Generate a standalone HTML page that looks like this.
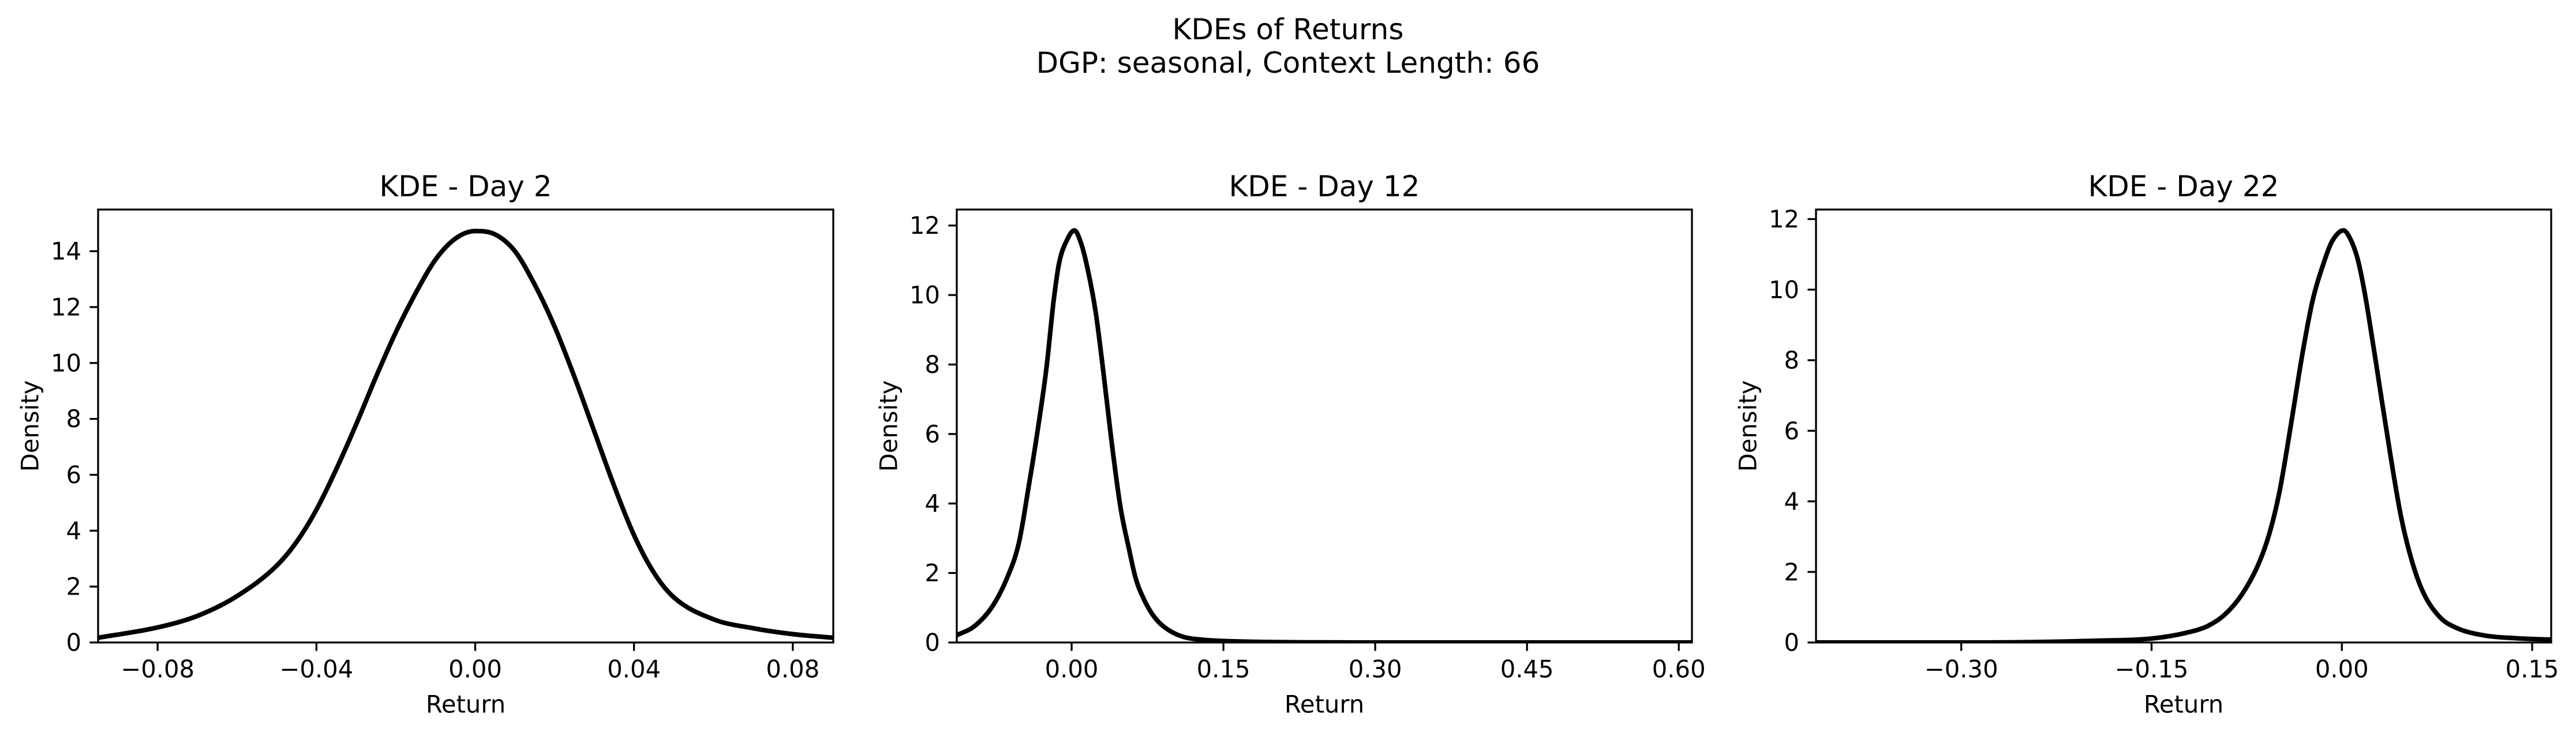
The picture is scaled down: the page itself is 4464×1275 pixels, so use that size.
<!DOCTYPE html>
<html><head><meta charset="utf-8">
<style>
html,body{margin:0;padding:0;background:#fff;}
svg{display:block;font-family:"DejaVu Sans","Liberation Sans",sans-serif;}
</style></head>
<body>
<svg id="fig" width="4464" height="1275" viewBox="0 0 4464 1275" xmlns="http://www.w3.org/2000/svg">
<rect width="4464" height="1275" fill="#fff"/>
<text x="2232" y="51" font-size="50" text-anchor="middle" dominant-baseline="central">KDEs of Returns</text>
<text x="2232" y="109" font-size="50" text-anchor="middle" dominant-baseline="central">DGP: seasonal, Context Length: 66</text>
</svg>
<script>
// Panel 1 (Day 2)
const p1X = [-0.095,-0.08,-0.07,-0.06,-0.05,-0.045,-0.04,-0.035,-0.03,-0.025,-0.02,-0.015,-0.01,-0.005,0.0,0.005,0.01,0.015,0.02,0.025,0.03,0.035,0.04,0.045,0.05,0.06,0.07,0.08,0.0902];
const p1Y = [0.17,0.54,0.95,1.66,2.75,3.6,4.75,6.2,7.8,9.5,11.1,12.5,13.7,14.45,14.72,14.6,14.0,12.8,11.3,9.5,7.55,5.6,3.84,2.5,1.62,0.83,0.51,0.3,0.17];
const p1Ticks = [-0.08,-0.04,0.0,0.04,0.08];
const p1TickLabels = ["\u22120.08","\u22120.04","0.00","0.04","0.08"];
const p1YTicks = [0,2,4,6,8,10,12,14];
// Panel 2 (Day 12)
const p2X = [-0.1135,-0.0964,-0.0785,-0.0639,-0.052,-0.0422,-0.0341,-0.0249,-0.0179,-0.0125,-0.0043,0.0027,0.0092,0.0162,0.0238,0.0309,0.039,0.0482,0.0568,0.0633,0.0715,0.0796,0.0877,0.0985,0.112,0.134,0.166,0.231,0.35,0.613];
const p2Y = [0.21,0.46,1.03,1.85,2.88,4.53,6.0,7.9,9.8,10.9,11.6,11.86,11.5,10.7,9.5,7.9,5.9,3.9,2.68,1.85,1.24,0.82,0.54,0.31,0.15,0.07,0.03,0.005,0.0,0.0];
const p2Ticks = [0.0,0.15,0.30,0.45,0.60];
const p2TickLabels = ["0.00","0.15","0.30","0.45","0.60"];
const p2YTicks = [0,2,4,6,8,10,12];
// Panel 3 (Day 22)
const p3X = [-0.4145,-0.30,-0.192,-0.148,-0.122,-0.105,-0.092,-0.079,-0.066,-0.057,-0.049,-0.040,-0.031,-0.023,-0.0139,-0.0087,-0.0030,0.0013,0.0065,0.0122,0.0165,0.0209,0.0296,0.0383,0.047,0.0557,0.0644,0.0775,0.0905,0.1123,0.1384,0.165];
const p3Y = [0.0,0.0,0.05,0.12,0.28,0.48,0.8,1.35,2.2,3.1,4.3,6.2,8.2,9.7,10.8,11.3,11.6,11.68,11.45,10.9,10.2,9.3,7.3,5.3,3.5,2.25,1.4,0.71,0.41,0.2,0.12,0.08];
const p3Ticks = [-0.30,-0.15,0.0,0.15];
const p3TickLabels = ["\u22120.30","\u22120.15","0.00","0.15"];
const p3YTicks = [0,2,4,6,8,10,12];

const NS = "http://www.w3.org/2000/svg";
const svg = document.getElementById('fig');
function mk(tag, attrs, parent){
  const e = document.createElementNS(NS, tag);
  for (const k in attrs) e.setAttribute(k, attrs[k]);
  (parent||svg).appendChild(e);
  return e;
}
function smoothPath(px, py){
  // monotone cubic (Fritsch-Carlson) in pixel space
  const n = px.length, m = new Array(n), dk = [];
  for (let i = 0; i < n - 1; i++) dk.push((py[i+1] - py[i]) / (px[i+1] - px[i]));
  m[0] = dk[0]; m[n-1] = dk[n-2];
  for (let i = 1; i < n - 1; i++) m[i] = (dk[i-1] * dk[i] <= 0) ? 0 : (dk[i-1] + dk[i]) / 2;
  for (let i = 0; i < n - 1; i++) {
    if (dk[i] === 0) { m[i] = 0; m[i+1] = 0; continue; }
    const a = m[i] / dk[i], b = m[i+1] / dk[i], s = a*a + b*b;
    if (s > 9) { const t = 3 / Math.sqrt(s); m[i] = t*a*dk[i]; m[i+1] = t*b*dk[i]; }
  }
  let d = 'M' + px[0].toFixed(1) + ' ' + py[0].toFixed(1);
  for (let i = 0; i < n - 1; i++) {
    const h = (px[i+1] - px[i]) / 3;
    d += 'C' + (px[i]+h).toFixed(1) + ' ' + (py[i]+m[i]*h).toFixed(1) + ' ' + (px[i+1]-h).toFixed(1) + ' ' + (py[i+1]-m[i+1]*h).toFixed(1) + ' ' + px[i+1].toFixed(1) + ' ' + py[i+1].toFixed(1);
  }
  return d;
}
const TOP = 363, BOT = 1113;
function panel(cfg){
  const {left, right, xmin, xmax, ymax, xs, ys, xt, xtl, yt, title, key} = cfg;
  const g = mk('g', {});
  
  
  const sx = v => left + (v - xmin) / (xmax - xmin) * (right - left);
  const sy = v => BOT - v / ymax * (BOT - TOP);
  const cp = mk('clipPath', {id: key + '-clip'}, g);
  mk('rect', {x: left, y: TOP, width: right - left, height: BOT - TOP}, cp);
  const d = smoothPath(xs.map(sx), ys.map(sy));
  const line = mk('path', {d: d, fill: 'none', stroke: '#000', 'stroke-width': 8, 'stroke-linejoin': 'round', 'clip-path': 'url(#' + key + '-clip)'}, g);
  
  
  const frame = mk('rect', {x: left, y: TOP, width: right - left, height: BOT - TOP, fill: 'none', stroke: '#000', 'stroke-width': 3.3}, g);
  
  
  xt.forEach((v, i) => {
    const x = sx(v);
    mk('line', {x1: x, x2: x, y1: BOT, y2: BOT + 14.6, stroke: '#000', 'stroke-width': 3.3}, g);
    const t = mk('text', {x: x, y: 1159, 'font-size': 41.7, 'text-anchor': 'middle', 'dominant-baseline': 'central'}, g);
    t.textContent = xtl[i];
    
    
  });
  yt.forEach(v => {
    const y = sy(v);
    mk('line', {x1: left - 14.6, x2: left, y1: y, y2: y, stroke: '#000', 'stroke-width': 3.3}, g);
    const t = mk('text', {x: left - 29, y: y, 'font-size': 41.7, 'text-anchor': 'end', 'dominant-baseline': 'central'}, g);
    t.textContent = String(v);
    
    
  });
  const tt = mk('text', {x: (left + right) / 2, y: 323, 'font-size': 50, 'text-anchor': 'middle', 'dominant-baseline': 'central'}, g);
  tt.textContent = title;
  
  
  const xl = mk('text', {x: (left + right) / 2, y: 1220, 'font-size': 41.7, 'text-anchor': 'middle', 'dominant-baseline': 'central'}, g);
  xl.textContent = 'Return';
  
  
  const yx = left - 118;
  const yl = mk('text', {x: yx, y: (TOP + BOT) / 2, 'font-size': 41.7, 'text-anchor': 'middle', 'dominant-baseline': 'central', transform: 'rotate(-90 ' + yx + ' ' + (TOP + BOT) / 2 + ')'}, g);
  yl.textContent = 'Density';
  
  
}
panel({key: 'day2', left: 170, right: 1444, xmin: -0.095, xmax: 0.0902, ymax: 15.49, xs: p1X, ys: p1Y, xt: p1Ticks, xtl: p1TickLabels, yt: p1YTicks, title: 'KDE - Day 2'});
panel({key: 'day12', left: 1658, right: 2932, xmin: -0.1135, xmax: 0.613, ymax: 12.46, xs: p2X, ys: p2Y, xt: p2Ticks, xtl: p2TickLabels, yt: p2YTicks, title: 'KDE - Day 12'});
panel({key: 'day22', left: 3147, right: 4421, xmin: -0.4145, xmax: 0.165, ymax: 12.27, xs: p3X, ys: p3Y, xt: p3Ticks, xtl: p3TickLabels, yt: p3YTicks, title: 'KDE - Day 22'});
</script>
</body></html>
